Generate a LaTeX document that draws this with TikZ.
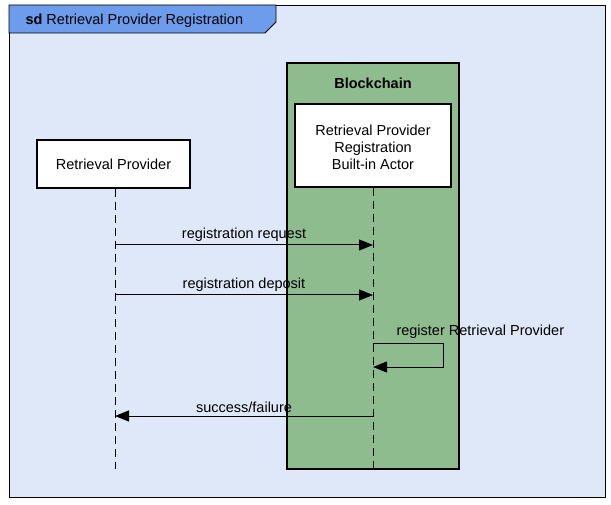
\documentclass[tikz,border=0pt]{standalone}
\usepackage{fontspec}
\setmainfont{Liberation Sans}
\usetikzlibrary{arrows.meta,positioning,calc}
\definecolor{framebg}{HTML}{DFE8F8}
\definecolor{tabblue}{HTML}{6C9CEB}
\definecolor{chaingreen}{HTML}{8FBC8F}
\begin{document}
\begin{tikzpicture}[x=1pt,y=-1pt,font=\fontsize{14.5}{17}\selectfont]
      \tikzstyle{party}=[draw,line width=1.6pt,fill=white,align=center]
      \tikzstyle{life}=[dashed,dash pattern=on 8pt off 5pt,line width=0.9pt]
      \tikzstyle{msg}=[line width=1pt,-{Triangle[length=14pt,width=11pt]}]
      \useasboundingbox (0,0) rectangle (611,505);
      % frame and tab
      \draw[fill=framebg,line width=0.9pt] (9,5) rectangle (605,497);
      \draw[fill=tabblue,line width=0.9pt] (9,5) -- (276,5) -- (276,22) -- (265,33) -- (9,33) -- cycle;
      \node[anchor=west] (title) at (22,21) {\textbf{sd} Retrieval Provider Registration};
      % blockchain
      \draw[fill=chaingreen,line width=1.1pt] (287,63) rectangle (459,469);
      \node (chain) at (373,83) {\textbf{Blockchain}};
      \node[party,minimum width=156pt,minimum height=83pt] (actor) at (373,145.5) {};
      \node[align=center] (actortext) at (373,147.5) {Retrieval Provider\\Registration\\Built-in Actor};
      \node[party,minimum width=153pt,minimum height=48pt] (rp) at (113.5,164) {Retrieval Provider};
      % lifelines
      \coordinate (rpend) at (115,469);
      \coordinate (actend) at (373,469);
      \draw[life] (rp.south -| rpend) -- (rpend);
      \draw[life] (actor.south) -- (actend);
      \coordinate (m1a) at (115,245); \coordinate (m1b) at (373,245);
      \coordinate (m2a) at (115,295); \coordinate (m2b) at (373,295);
      \coordinate (m3a) at (373,344); \coordinate (m3b) at (373,367);
      \coordinate (m4a) at (373,416); \coordinate (m4b) at (115,416);
      % messages
      \draw[msg] (m1a) -- node[above=0pt] {registration request} (m1b);
      \draw[msg] (m2a) -- node[above=0pt] {registration deposit} (m2b);
      \draw[msg] (m3a) -- ++(70,0) |- (m3b);
      \node[anchor=west] (selflbl) at (393,332) {register Retrieval Provider};
      \draw[msg] (m4a) -- node[above=0pt] {success/failure} (m4b);
    \end{tikzpicture}
\end{document}
